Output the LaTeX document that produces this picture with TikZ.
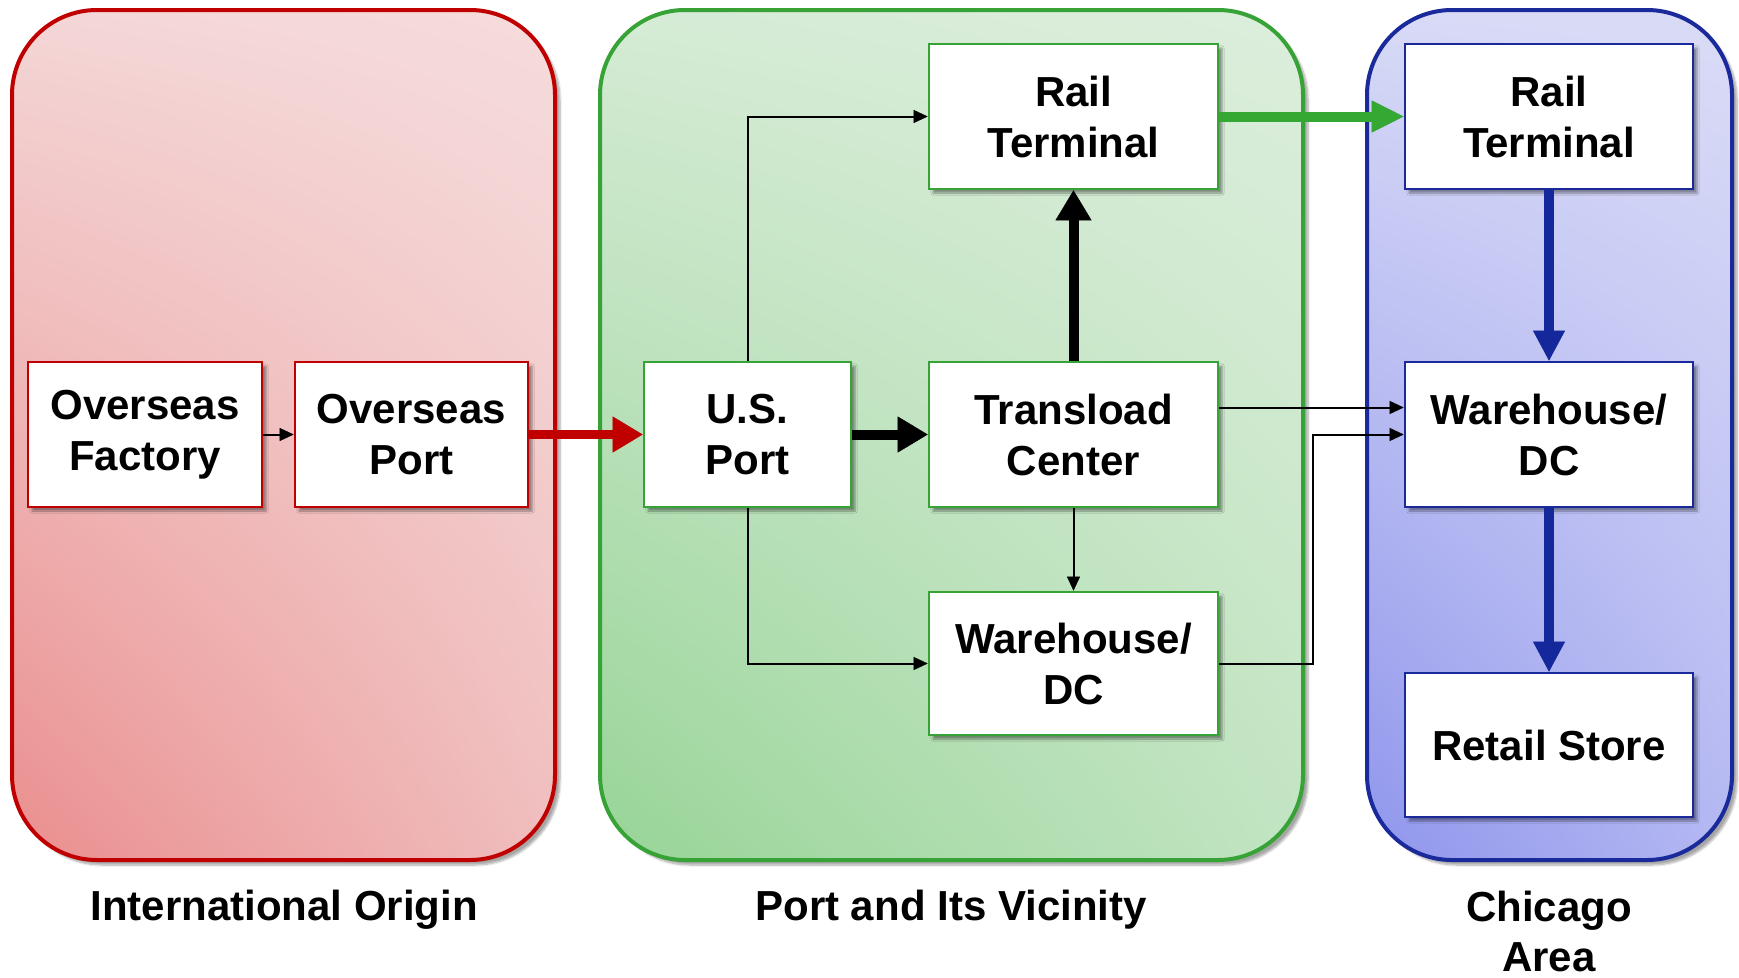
\documentclass[tikz,border=0pt]{standalone}
\usepackage{fontspec}
\setmainfont{Liberation Sans}
\usetikzlibrary{arrows.meta,shadows.blur,shadings,calc}
\definecolor{cred}{HTML}{C00000}
\definecolor{cgreen}{HTML}{37A337}
\definecolor{cgarrow}{HTML}{35A833}
\definecolor{cblue}{HTML}{1A2A9A}
\definecolor{cbarrow}{HTML}{14289B}
\definecolor{cblack}{RGB}{0,0,0}
\definecolor{rUL}{RGB}{244,214,214}
\definecolor{rUR}{RGB}{246,220,220}
\definecolor{rLL}{RGB}{234,142,142}
\definecolor{rLR}{RGB}{240,190,190}
\definecolor{gUL}{RGB}{213,235,213}
\definecolor{gUR}{RGB}{220,238,220}
\definecolor{gLL}{RGB}{151,212,151}
\definecolor{gLR}{RGB}{194,228,194}
\definecolor{bUL}{RGB}{216,218,246}
\definecolor{bUR}{RGB}{218,220,246}
\definecolor{bLL}{RGB}{143,149,236}
\definecolor{bLR}{RGB}{180,184,242}
\tikzset{
  region/.style={line width=4pt, rounded corners=85pt,
    blur shadow={shadow xshift=5pt, shadow yshift=-5pt, shadow blur steps=6, shadow opacity=35}},
  box/.style={draw, fill=white, line width=2.6pt, inner sep=0pt, align=center,
    font=\fontsize{42}{51}\selectfont\bfseries,
    blur shadow={shadow xshift=4pt, shadow yshift=-4pt, shadow blur steps=4, shadow opacity=40}},
  rbox/.style={box, draw=cred},
  gbox/.style={box, draw=cgreen},
  bbox/.style={box, draw=cblue},
  lbl/.style={align=center, inner sep=0pt, font=\fontsize{42}{50}\selectfont\bfseries},
  thinarr/.style={draw=cblack, line width=2pt, -{Triangle[length=14pt,width=13pt,line width=0.5pt,color=cblack,fill=cblack]}},
  thickarr/.style={draw=cblack, line width=10pt, -{Triangle[length=30pt,width=36pt,line width=0.5pt,color=cblack,fill=cblack]}},
}
\begin{document}
\begin{tikzpicture}[x=1pt,y=-1pt]
\useasboundingbox (0,0) rectangle (1739,977);
% regions
\path[region, draw=cred, upper left=rUL, upper right=rUR, lower left=rLL, lower right=rLR]
  (12,10) rectangle (555,860);
\path[region, draw=cgreen, upper left=gUL, upper right=gUR, lower left=gLL, lower right=gLR]
  (600,10) rectangle (1303,860);
\path[region, draw=cblue, upper left=bUL, upper right=bUR, lower left=bLL, lower right=bLR]
  (1367,10) rectangle (1732,860);
% boxes
\node[rbox, minimum width=234pt, minimum height=145pt] (fac) at (145,434.5) {Overseas\\Factory};
\node[rbox, minimum width=233pt, minimum height=145pt] (oport) at (411.5,434.5) {Overseas\\Port};
\node[gbox, minimum width=207pt, minimum height=145pt] (usport) at (747.5,434.5) {U.S.\\Port};
\node[gbox, minimum width=289pt, minimum height=145pt] (railg) at (1073.5,116.5) {Rail\\Terminal};
\node[gbox, minimum width=289pt, minimum height=145pt] (trans) at (1073.5,434.5) {Transload\\Center};
\node[gbox, minimum width=289pt, minimum height=143pt] (wareg) at (1073.5,663.5) {Warehouse/\\DC};
\node[bbox, minimum width=288pt, minimum height=145pt] (railb) at (1549,116.5) {Rail\\Terminal};
\node[bbox, minimum width=288pt, minimum height=145pt] (wareb) at (1549,434.5) {Warehouse/\\DC};
\node[bbox, minimum width=288pt, minimum height=144pt] (retail) at (1549,745) {Retail Store};
% labels
\node[lbl] (l1) at (284,910) {International Origin};
\node[lbl] (l2) at (951,910) {Port and Its Vicinity};
\node[lbl] (l3) at (1549,931) {Chicago\\Area};
% connectors
\draw[thinarr] (fac) -- (oport);
\draw[draw=cred, line width=9pt, -{Triangle[length=30pt,width=36pt,line width=0.5pt,color=cred,fill=cred]}] (oport) -- (usport);
\draw[thickarr] (usport) -- (trans);
\draw[thickarr] (trans) -- (railg);
\draw[thinarr] (trans) -- (wareg);
\draw[thinarr] (usport.north) |- (railg.west);
\draw[thinarr] (usport.south) |- (wareg.west);
\draw[draw=cgarrow, line width=10pt, -{Triangle[length=32pt,width=32pt,line width=0.5pt,color=cgarrow,fill=cgarrow]}] (railg) -- (railb);
\draw[draw=cbarrow, line width=10pt, -{Triangle[length=30pt,width=32pt,line width=0.5pt,color=cbarrow,fill=cbarrow]}] (railb) -- (wareb);
\draw[draw=cbarrow, line width=10pt, -{Triangle[length=30pt,width=32pt,line width=0.5pt,color=cbarrow,fill=cbarrow]}] (wareb) -- (retail);
\draw[thinarr] ([yshift=27pt]trans.east) -- ([yshift=27pt]wareb.west);
\draw[thinarr] (wareg.east) -- ++(94,0) |- (wareb.west);
\end{tikzpicture}
\end{document}
